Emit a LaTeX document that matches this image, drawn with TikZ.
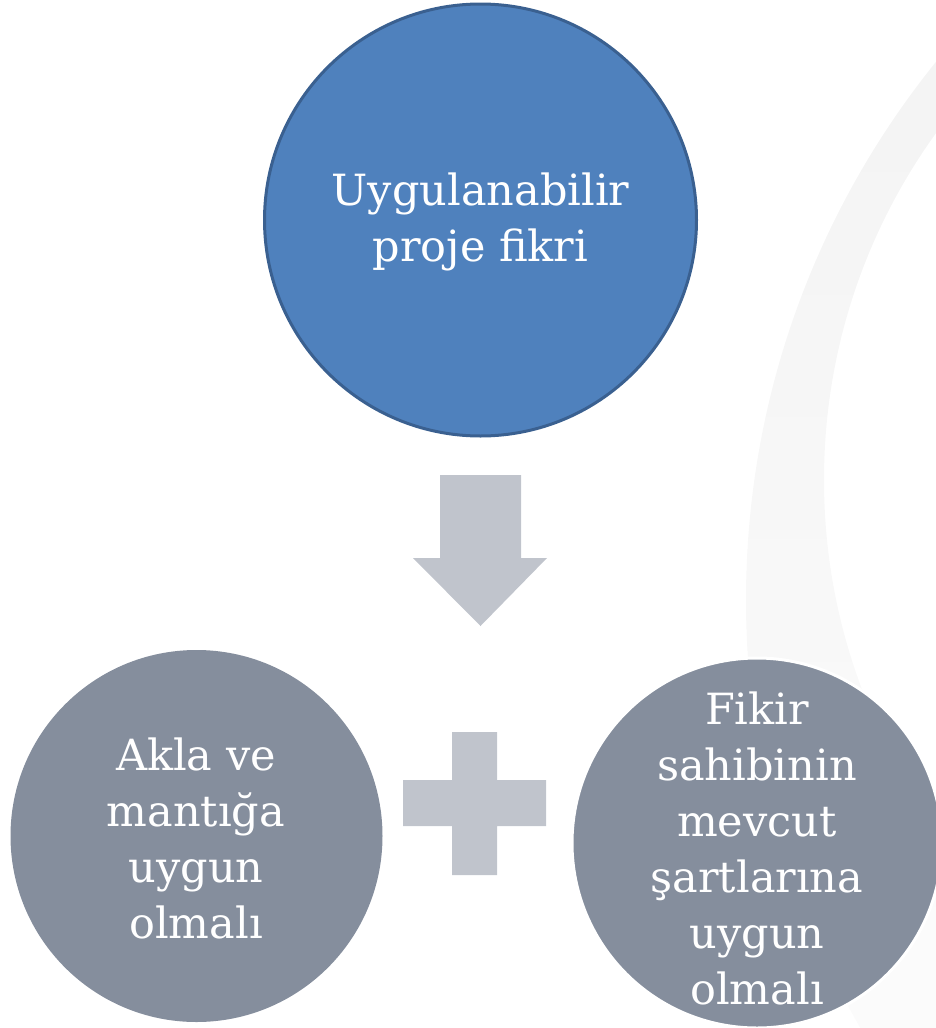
\documentclass[tikz,border=0pt]{standalone}
\usepackage{fontspec}
\setmainfont{DejaVu Serif}
\definecolor{topblue}{HTML}{4F81BD}
\definecolor{topedge}{HTML}{3A6090}
\definecolor{circgray}{HTML}{858E9D}
\definecolor{shapegray}{HTML}{C0C4CC}
\definecolor{bandtop}{HTML}{F1F1F1}
\definecolor{bandbot}{HTML}{FFFFFF}
\begin{document}
\begin{tikzpicture}[x=1pt,y=-1pt,
  bluecirc/.style={circle,fill=topblue,draw=topedge,line width=3pt,minimum size=432pt,inner sep=0pt},
  graycirc/.style={circle,fill=circgray,minimum size=372pt,inner sep=0pt},
  txt/.style={text=white,align=center,font=\fontsize{43}{56}\selectfont,inner sep=0pt},
  deco/.style={fill=shapegray}]
\useasboundingbox (0,0) rectangle (936,1028);
% faint background band
\shade[top color=bandtop,bottom color=bandbot,even odd rule] (1603,600) circle (857) (1417,480) circle (593);
% top circle
\node[bluecirc] (top) at (480.5,220) {};
\node[txt] (toptext) at (480.5,222) {Uygulanabilir\\proje fikri};
% down arrow
\fill[deco] (440,475) -- (521,475) -- (521,558) -- (547,558) -- (480.5,626) -- (413,558) -- (440,558) -- cycle;
% plus sign
\fill[deco] (452,732) -- (497,732) -- (497,780) -- (546,780) -- (546,826) -- (497,826) -- (497,875) -- (452,875) -- (452,826) -- (403,826) -- (403,780) -- (452,780) -- cycle;
% left circle
\node[graycirc] (left) at (196.5,836) {};
\node[txt] (lefttext) at (196,838) {Akla ve\\mantığa\\uygun\\olmalı};
% right circle
\node[graycirc,draw=white,line width=3pt,minimum size=370pt] (right) at (757,843) {};
\node[txt] (righttext) at (757,848) {Fikir\\sahibinin\\mevcut\\şartlarına\\uygun\\olmalı};
\end{tikzpicture}
\end{document}
